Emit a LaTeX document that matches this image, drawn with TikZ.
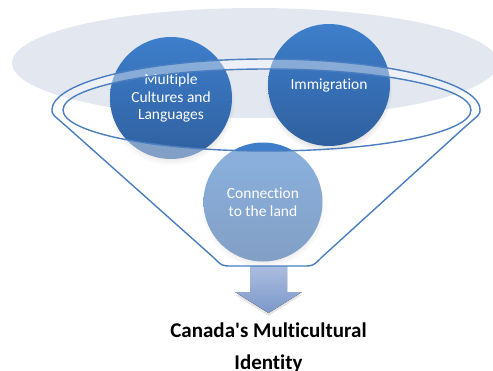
\documentclass[tikz,border=0pt]{standalone}
\usepackage{fontspec}
\setmainfont{Carlito}[Ligatures={TeXOff,NoCommon}]
\usetikzlibrary{shadows}

\definecolor{backell}{HTML}{E2E7F0}
\definecolor{bubtop}{HTML}{3E7ECB}
\definecolor{bubbot}{HTML}{2F609F}
\definecolor{rim}{HTML}{4A7EC0}
\definecolor{arrtop}{HTML}{ABBDDF}
\definecolor{arrbot}{HTML}{7C98CA}

% outline of the funnel body (top half of the outer rim + sides)
\newcommand{\funnelpath}{(303,266) .. controls (313,266) .. (322,257) -- (466,126)
  .. controls (480,114) .. (480,110) arc[start angle=0, end angle=-180, x radius=214, y radius=51]
  .. controls (52,114) .. (66,126) -- (213,257) .. controls (222,266) .. (232,266) -- cycle}

\begin{document}
\begin{tikzpicture}[x=1pt, y=-1pt, font=\fontsize{15.5}{17.5}\selectfont,
  main/.style = {circle, minimum size=122pt, inner sep=0pt, align=center, text=white,
    top color=bubtop, bottom color=bubbot,
    circular drop shadow={opacity=0.3, shadow xshift=0pt, shadow yshift=-4pt, shadow scale=1.04}},
  rimline/.style = {draw=rim, line width=1.4pt},
  title/.style = {font=\fontsize{21}{21}\selectfont\bfseries, anchor=base}]
                \useasboundingbox (0,0) rectangle (493,370);
                \clip (0,0) rectangle (493,370);
                \fill[backell] (255,63) ellipse [x radius=243, y radius=55];
                \node[main] (c0) at (171,98) {Multiple\\Cultures and\\Languages};
                \node[main] (c1) at (329,85) {Immigration};
                \node[main, minimum size=119pt] (c2) at (263,202) {Connection\\to the land};
                % arrow out of the funnel
                \fill[top color=arrtop, bottom color=arrbot, drop shadow={opacity=0.2, shadow xshift=0pt, shadow yshift=-3pt}]
                    (250,266) -- (287,266) -- (287,292) -- (302,292) -- (268.5,313) -- (235,292) -- (250,292) -- cycle;
                % funnel glass, then its outlines
                \fill[white, fill opacity=0.4, even odd rule] \funnelpath (267,110) ellipse [x radius=204, y radius=41];
                \draw[rimline] \funnelpath;
                \draw[rimline] (267,110) ellipse [x radius=204, y radius=41];
                \node[title] (t0) at (268.5,337) {Canada's Multicultural};
                \node[title] (t1) at (268.5,369) {Identity};
            \end{tikzpicture}
\end{document}
